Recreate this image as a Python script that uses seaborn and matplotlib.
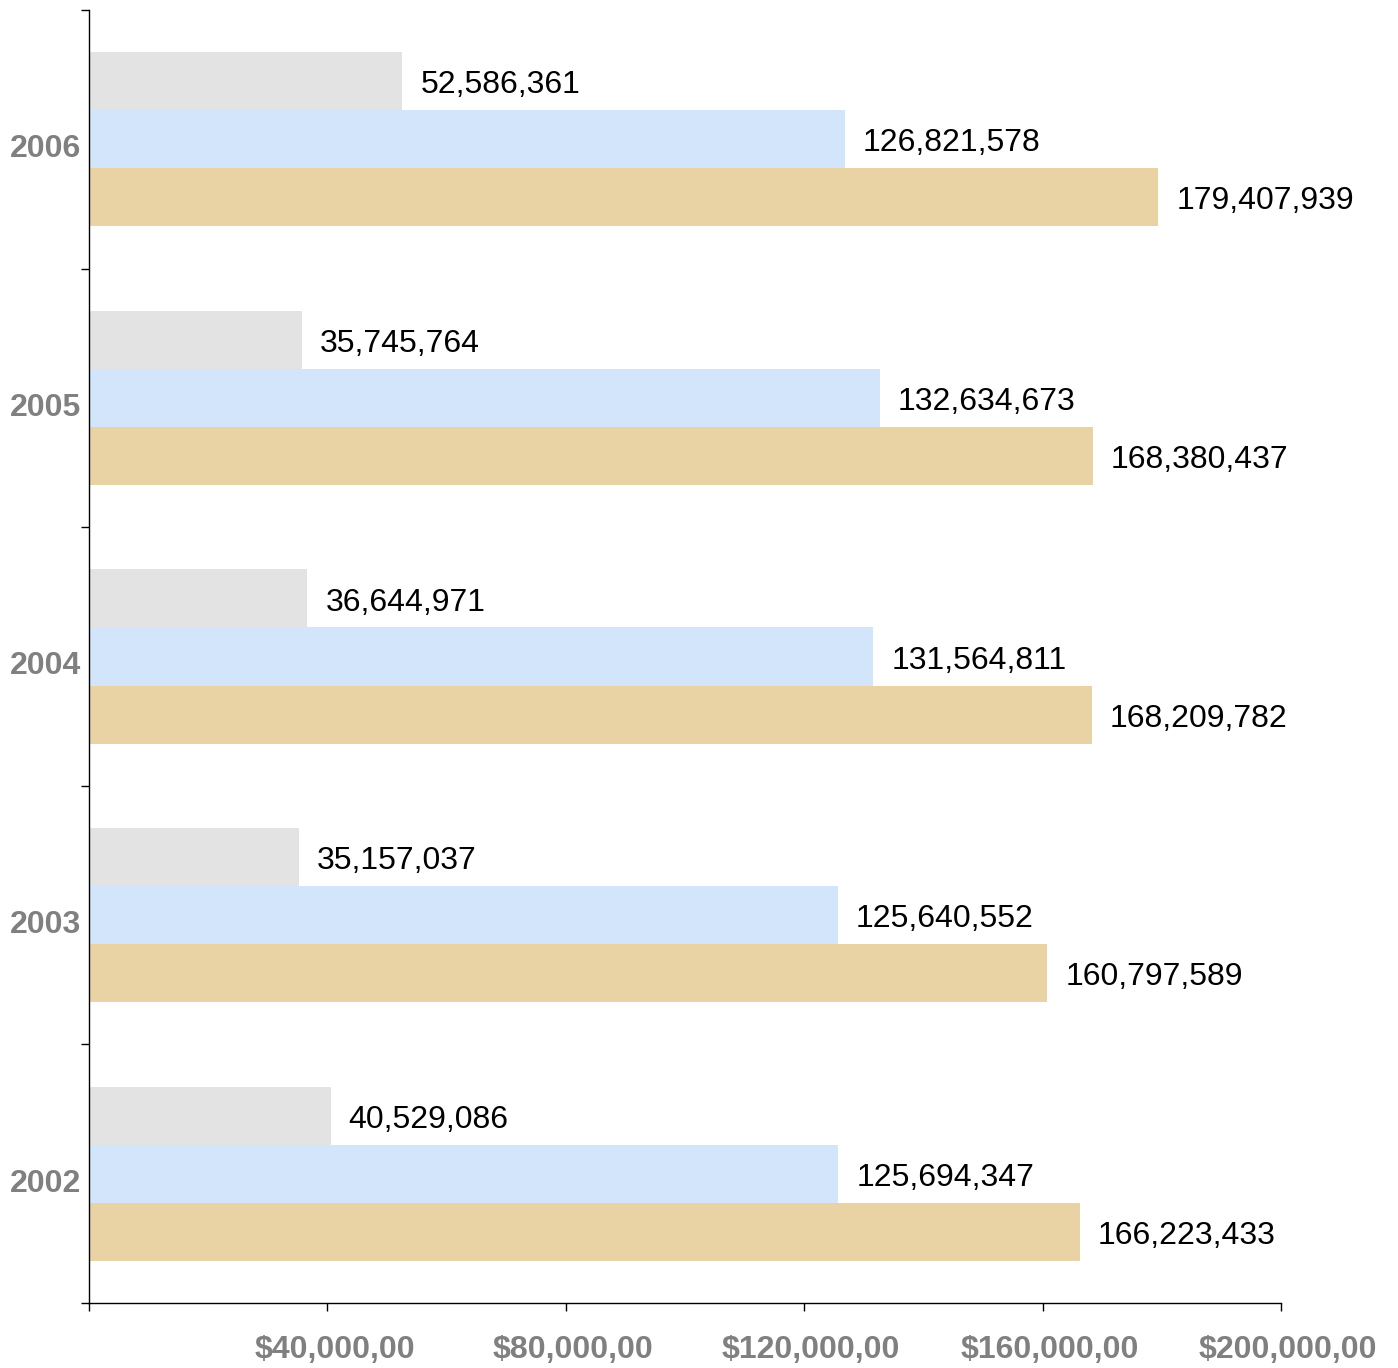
import pandas as pd
import seaborn as sns
import matplotlib.pyplot as plt
import matplotlib.transforms as mtransforms
from matplotlib.ticker import FixedLocator, FuncFormatter

years = ['2006', '2005', '2004', '2003', '2002']
series_names = ['Series 1', 'Series 2', 'Series 3']
series_1 = [52586361, 35745764, 36644971, 35157037, 40529086]
series_2 = [126821578, 132634673, 131564811, 125640552, 125694347]
series_3 = [179407939, 168380437, 168209782, 160797589, 166223433]
x_ticks = [40000000, 80000000, 120000000, 160000000, 200000000]
x_tick_labels = ['$40,000,00', '$80,000,00', '$120,000,00', '$160,000,00', '$200,000,00']

colors = ['#e3e3e3', '#d3e5fa', '#e9d3a5']

rows = []
for name, vals in zip(series_names, [series_1, series_2, series_3]):
    for y, v in zip(years, vals):
        rows.append({'year': y, 'series': name, 'value': v})
df = pd.DataFrame(rows)

sns.set_style('white')
plt.rcParams['font.family'] = ['Liberation Sans', 'DejaVu Sans']

fig = plt.figure(figsize=(13.98, 13.68), dpi=100)
ax = fig.add_axes([89 / 1398, 65 / 1368, 1192 / 1398, 1293 / 1368])

sns.barplot(data=df, y='year', x='value', hue='series', order=years,
            hue_order=series_names, palette=colors, orient='h',
            width=0.673, saturation=1, legend=False, ax=ax, linewidth=0)

for cont in ax.containers:
    labels = ['{:,}'.format(int(b.get_width())) for b in cont]
    anns = ax.bar_label(cont, labels=labels, padding=13, fontsize=23, color='black')
    for a in anns:
        a.xyann = (a.xyann[0], a.xyann[1] - 3)

ax.set_xlim(0, 200000000)
ax.set_ylim(4.5, -0.5)
ax.set_xlabel('')
ax.set_ylabel('')

ax.xaxis.set_major_locator(FixedLocator([0] + x_ticks))
ax.xaxis.set_major_formatter(FuncFormatter(
    lambda v, p: '' if p == 0 else x_tick_labels[p - 1]))
ax.tick_params(axis='x', direction='out', length=5.8, width=1, color='black',
               pad=17, labelsize=23, labelcolor='#808080', bottom=True)

ax.yaxis.set_major_locator(FixedLocator([-0.5, 0.5, 1.5, 2.5, 3.5, 4.5]))
ax.yaxis.set_major_formatter(FuncFormatter(lambda v, p: ''))
ax.yaxis.set_minor_locator(FixedLocator([0.025, 1.025, 2.025, 3.025, 4.025]))
ax.yaxis.set_minor_formatter(FuncFormatter(lambda v, p: years[int(round(v))]))
ax.tick_params(axis='y', which='major', direction='out', length=5.8, width=1,
               color='black', left=True)
ax.tick_params(axis='y', which='minor', length=0, pad=6, labelsize=23,
               labelcolor='#808080', left=True)

fig.canvas.draw()
offset = mtransforms.ScaledTranslation(7 / 100, 0, fig.dpi_scale_trans)
for lab in ax.get_xticklabels():
    lab.set_fontweight('bold')
    lab.set_transform(lab.get_transform() + offset)
for lab in ax.get_yticklabels(minor=True):
    lab.set_fontweight('bold')

for side in ['top', 'right']:
    ax.spines[side].set_visible(False)
for side in ['left', 'bottom']:
    ax.spines[side].set_color('black')
    ax.spines[side].set_linewidth(1)

fig.savefig('out.png', dpi=100, facecolor='white')
